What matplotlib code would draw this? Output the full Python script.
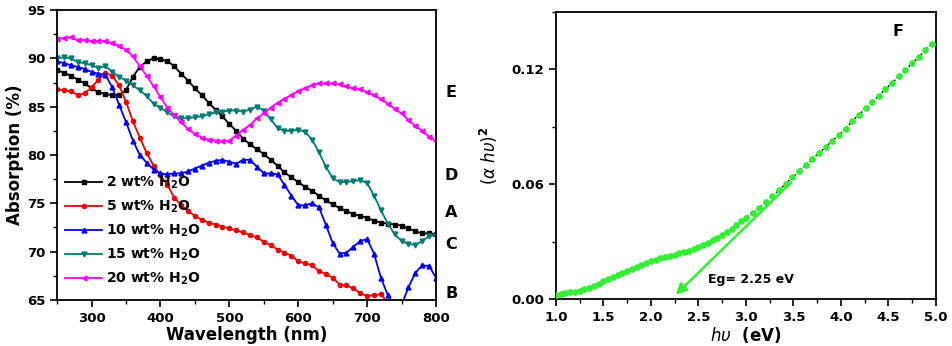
import numpy as np
import matplotlib
matplotlib.use('Agg')
import matplotlib.pyplot as plt
from matplotlib.ticker import MultipleLocator

plt.rcParams['font.family'] = ['DejaVu Sans']
plt.rcParams['font.weight'] = 'bold'
plt.rcParams['mathtext.fontset'] = 'custom'
plt.rcParams['mathtext.rm'] = 'DejaVu Sans:bold'
plt.rcParams['mathtext.bf'] = 'DejaVu Sans:bold'
plt.rcParams['mathtext.it'] = 'DejaVu Sans:italic:normal'

# wavelength grid (nm) for the absorption spectra
wavelength = list(range(250, 801, 10))

abs_2 = [88.8, 88.5, 88.2, 87.8, 87.4, 86.9, 86.5, 86.3, 86.2, 86.2,
         86.7, 88.1, 89.1, 89.7, 90.0, 89.9, 89.7, 89.2, 88.4, 87.7,
         86.9, 86.2, 85.4, 84.7, 84.0, 83.2, 82.5, 81.7, 81.1, 80.6,
         80.1, 79.5, 78.9, 78.2, 77.7, 77.2, 76.7, 76.3, 75.8, 75.3,
         74.9, 74.5, 74.2, 73.9, 73.7, 73.5, 73.2, 73.0, 72.9, 72.8,
         72.7, 72.4, 72.1, 71.9, 71.9, 71.8]
abs_5 = [86.8, 86.7, 86.6, 86.2, 86.4, 87.0, 87.8, 88.5, 88.2, 87.2,
         85.5, 83.5, 81.8, 80.2, 78.9, 77.9, 76.9, 75.6, 74.8, 74.2,
         73.7, 73.3, 73.0, 72.8, 72.6, 72.4, 72.2, 72.0, 71.7, 71.5,
         71.0, 70.7, 70.2, 69.9, 69.6, 69.0, 68.8, 68.6, 68.0, 67.7,
         67.3, 66.6, 66.5, 66.2, 65.7, 65.4, 65.5, 65.6, 64.7, np.nan,
         np.nan, np.nan, np.nan, np.nan, np.nan, np.nan]
abs_10 = [89.7, 89.5, 89.3, 89.1, 88.9, 88.6, 88.4, 88.3, 87.0, 85.2,
          83.4, 81.5, 80.0, 79.2, 78.5, 78.1, 78.0, 78.1, 78.1, 78.3,
          78.6, 78.9, 79.2, 79.4, 79.5, 79.3, 79.1, 79.5, 79.5, 78.8,
          78.1, 78.1, 78.0, 76.9, 75.8, 74.8, 74.8, 75.0, 74.6, 72.8,
          70.9, 69.8, 69.9, 70.5, 71.1, 71.3, 69.8, 67.3, 65.5, 64.3,
          64.5, 66.3, 67.8, 68.6, 68.5, 67.3]
abs_15 = [90.0, 90.1, 90.0, 89.6, 89.5, 89.3, 89.0, 89.2, 88.6, 88.1,
          87.7, 87.2, 86.7, 86.1, 85.3, 84.9, 84.4, 84.0, 83.8, 83.8,
          83.9, 84.0, 84.2, 84.4, 84.5, 84.6, 84.6, 84.5, 84.7, 85.0,
          84.6, 83.7, 82.8, 82.5, 82.5, 82.6, 82.4, 81.6, 80.3, 78.8,
          77.6, 77.2, 77.2, 77.3, 77.4, 77.1, 75.8, 74.3, 72.9, 71.8,
          71.1, 70.8, 70.7, 71.1, 71.6, 71.7]
abs_20 = [92.0, 92.1, 92.2, 91.9, 91.9, 91.8, 91.8, 91.8, 91.6, 91.3,
          90.9, 90.2, 89.2, 88.2, 87.1, 86.0, 84.9, 84.1, 83.4, 82.7,
          82.2, 81.8, 81.6, 81.5, 81.4, 81.5, 82.0, 82.6, 83.1, 83.8,
          84.3, 84.9, 85.4, 85.8, 86.2, 86.6, 86.9, 87.2, 87.4, 87.4,
          87.4, 87.3, 87.1, 86.9, 86.8, 86.5, 86.2, 85.8, 85.3, 84.8,
          84.3, 83.6, 83.0, 82.5, 81.9, 81.4]

series_labels = ['2 wt% H$_2$O', '5 wt% H$_2$O', '10 wt% H$_2$O',
                 '15 wt% H$_2$O', '20 wt% H$_2$O']
side_letters = ['A', 'B', 'C', 'D', 'E']
letter_levels = [74.0, 65.7, 70.7, 77.9, 86.5]

# Tauc plot data
photon_energy = [1.00, 1.05, 1.10, 1.15, 1.20, 1.25, 1.30, 1.35, 1.40, 1.45,
                 1.50, 1.55, 1.60, 1.65, 1.70, 1.75, 1.80, 1.85, 1.90, 1.95,
                 2.00, 2.05, 2.10, 2.15, 2.20, 2.25, 2.30, 2.35, 2.40, 2.45,
                 2.50, 2.55, 2.60, 2.65, 2.70, 2.75, 2.80, 2.85, 2.90, 2.95,
                 3.00, 3.07, 3.14, 3.21, 3.28, 3.35, 3.42, 3.49, 3.56, 3.63,
                 3.70, 3.77, 3.84, 3.91, 3.98, 4.05, 4.12, 4.19, 4.26, 4.33,
                 4.40, 4.47, 4.54, 4.61, 4.68, 4.75, 4.82, 4.89, 4.96]
tauc = [0.0023, 0.0026, 0.0030, 0.0034, 0.0038, 0.0044, 0.0051, 0.0059, 0.0068, 0.0080,
        0.0092, 0.0102, 0.0113, 0.0124, 0.0135, 0.0146, 0.0157, 0.0167, 0.0177, 0.0187,
        0.0196, 0.0204, 0.0212, 0.0219, 0.0226, 0.0232, 0.0238, 0.0244, 0.0252, 0.0260,
        0.0270, 0.0281, 0.0293, 0.0306, 0.0320, 0.0335, 0.0351, 0.0368, 0.0386, 0.0405,
        0.0424, 0.0448, 0.0475, 0.0505, 0.0537, 0.0570, 0.0603, 0.0636, 0.0668, 0.0700,
        0.0731, 0.0763, 0.0795, 0.0827, 0.0859, 0.0890, 0.0930, 0.0963, 0.0996, 0.1029,
        0.1063, 0.1097, 0.1130, 0.1164, 0.1198, 0.1232, 0.1265, 0.1300, 0.1335]
Eg = 2.25
fit_start = (3.5, 0.062)

fig = plt.figure(figsize=(9.52, 3.46), dpi=100)

# ---------------- left panel: absorption spectra
ax1 = fig.add_axes([0.060, 0.133, 0.398, 0.838])
styles = [('black', 's', 2.8), ('#ee0000', 'o', 3.0), ('#0000ee', '^', 3.5),
          ('#007b73', 'v', 3.5), ('#ff00ff', '<', 3.5)]
for ys, lab, (c, m, ms) in zip([abs_2, abs_5, abs_10, abs_15, abs_20], series_labels, styles):
    ax1.plot(wavelength, ys, color=c, marker=m, markersize=ms, lw=1.3, label=lab)

ax1.set_xlim(250, 800)
ax1.set_ylim(65, 95)
ax1.xaxis.set_major_locator(MultipleLocator(100))
ax1.xaxis.set_minor_locator(MultipleLocator(50))
ax1.yaxis.set_major_locator(MultipleLocator(5))
ax1.yaxis.set_minor_locator(MultipleLocator(2.5))
ax1.set_xlabel('Wavelength (nm)', fontsize=12, fontweight='bold', labelpad=1)
ax1.set_ylabel('Absorption (%)', fontsize=12, fontweight='bold', labelpad=2)
leg = ax1.legend(loc='lower left', bbox_to_anchor=(0.0, 0.015), frameon=False,
                 fontsize=10, handlelength=2.6, labelspacing=0.55,
                 handletextpad=0.3, borderaxespad=0.2)

for lt, lv in zip(side_letters, letter_levels):
    ax1.text(1.04, lv, lt, transform=ax1.get_yaxis_transform(), fontsize=11.5,
             fontweight='bold', ha='center', va='center', clip_on=False)

# ---------------- right panel: Tauc plot
green = '#33ee33'
ax2 = fig.add_axes([0.584, 0.136, 0.399, 0.829])
ax2.plot(photon_energy, tauc, color='black', lw=1.0, ls=(0, (1.5, 1.5)), zorder=2)
ax2.plot(photon_energy, tauc, ls='none', marker='o', markersize=3.8,
         color=green, markeredgecolor=green, zorder=3)
ax2.annotate('', xy=(Eg - 0.01, 0.0012), xytext=fit_start,
             arrowprops=dict(arrowstyle='-|>', color=green, lw=1.8, mutation_scale=16))
ax2.text(2.6, 0.0103, 'Eg= %.2f eV' % Eg, fontsize=9, fontweight='bold', va='center')
ax2.text(4.6, 0.140, 'F', fontsize=11.5, fontweight='bold', ha='center', va='center')

ax2.set_xlim(1.0, 5.0)
ax2.set_ylim(0.0, 0.15)
ax2.xaxis.set_major_locator(MultipleLocator(0.5))
ax2.xaxis.set_minor_locator(MultipleLocator(0.25))
ax2.yaxis.set_major_locator(MultipleLocator(0.06))
ax2.yaxis.set_minor_locator(MultipleLocator(0.03))
ax2.yaxis.set_major_formatter(matplotlib.ticker.FormatStrFormatter('%.2f'))
ax2.set_xlabel(r'$h\upsilon$  (eV)', fontsize=12, fontweight='bold', labelpad=1)
ax2.set_ylabel(r'($\alpha$ $h\upsilon$)$^2$', fontsize=12, fontweight='normal', labelpad=8)

for ax in (ax1, ax2):
    for sp in ax.spines.values():
        sp.set_linewidth(1.3)
    ax.tick_params(which='major', direction='out', length=5, width=1.2,
                   labelsize=9.5, top=False, right=False)
    ax.tick_params(which='minor', direction='out', length=3, width=1.0,
                   top=False, right=False)
    for t in ax.get_xticklabels() + ax.get_yticklabels():
        t.set_fontweight('bold')

fig.savefig('out.png', dpi=100)
